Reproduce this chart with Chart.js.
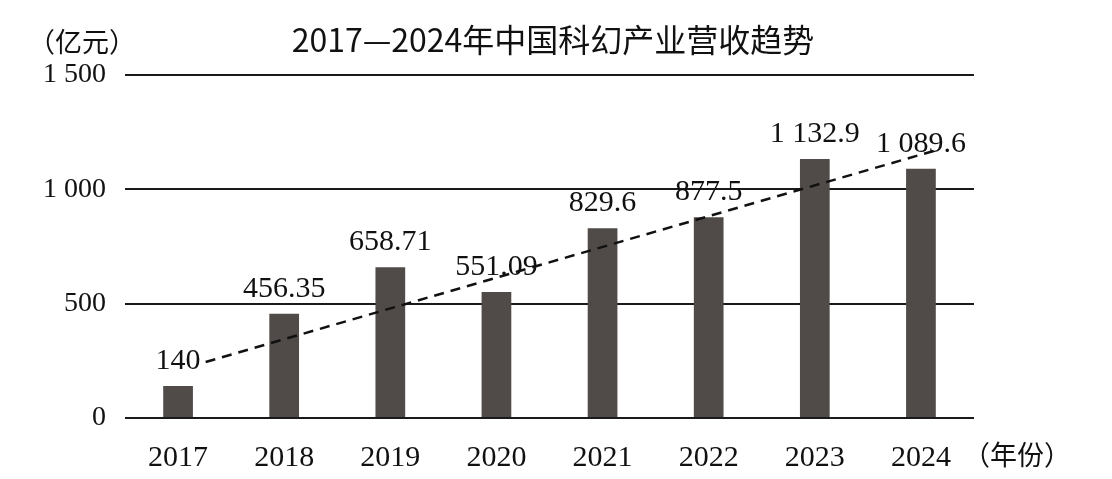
<!DOCTYPE html>
<html>
<head>
<meta charset="utf-8">
<script src="https://cdn.jsdelivr.net/npm/chart.js@4"></script>
<style>
  html, body { margin: 0; padding: 0; background: #fff; }
  #wrap { width: 1112px; height: 479px; position: relative; }
</style>
</head>
<body>
<div id="wrap"><canvas id="chartCanvas" width="1112" height="479"></canvas></div>
<script>
// data
const years = ['2017', '2018', '2019', '2020', '2021', '2022', '2023', '2024'];
const revenue = [140, 456.35, 658.71, 551.09, 829.6, 877.5, 1132.9, 1089.6];
const yTicks = [0, 500, 1000, 1500];
// dashed trend line, ends given in (category index, value)
const trendX = [0.26, 7.18];
const trendY = [245, 1176];

const titleText = '2017—2024年中国科幻产业营收趋势';
const yUnit = '（亿元）';
const xUnit = '（年份）';

const serif = '"Liberation Serif", "Times New Roman", serif';
const cjk = '"Noto Sans CJK SC", sans-serif';

// 1132.9 -> "1 132.9"
function fmt(v){
  const parts = String(v).split('.');
  parts[0] = parts[0].replace(/\B(?=(\d{3})+(?!\d))/g, ' ');
  return parts.join('.');
}

const extras = {
  id: 'extras',
  afterDatasetsDraw(chart){
    const c = chart.ctx;
    const area = chart.chartArea;
    c.save();
    c.fillStyle = '#111';
    // value labels over bars
    c.font = '30px ' + serif;
    c.textAlign = 'center';
    c.textBaseline = 'middle';
    chart.getDatasetMeta(0).data.forEach((bar, i) => {
      c.fillText(fmt(revenue[i]), bar.x, bar.y - 25);
    });
    // title
    c.font = '32px ' + cjk;
    c.fillText(titleText, 553, 40);
    // units
    c.font = '27px ' + cjk;
    c.textAlign = 'left';
    c.fillText(yUnit, 28, 42);
    c.fillText(xUnit, area.right - 11, 455);
    c.restore();
  }
};

const ctx = document.getElementById('chartCanvas').getContext('2d');
new Chart(ctx, {
  type: 'bar',
  data: {
    labels: years,
    datasets: [
      {
        data: revenue,
        backgroundColor: '#504b48',
        barPercentage: 0.28,
        categoryPercentage: 1,
        grouped: false,
        order: 1
      },
      {
        type: 'line',
        data: trendX.map((x, i) => ({ x: x, y: trendY[i] })),
        xAxisID: 'xTrend',
        borderColor: '#111',
        borderWidth: 2.5,
        borderDash: [10, 7],
        pointRadius: 0,
        fill: false,
        order: 0
      }
    ]
  },
  options: {
    responsive: false,
    animation: false,
    layout: { padding: { top: 75, right: 138, left: 0, bottom: 0 } },
    plugins: { legend: { display: false }, tooltip: { enabled: false }, title: { display: false } },
    scales: {
      x: {
        grid: { display: false },
        border: { display: false },
        ticks: { color: '#111', font: { family: serif, size: 30 }, padding: 14 },
        afterFit(scale){ scale.height = 61; }
      },
      xTrend: {
        type: 'linear',
        display: false,
        offset: false,
        min: -0.5,
        max: 7.5
      },
      y: {
        min: 0,
        max: 1500,
        afterBuildTicks(scale){ scale.ticks = yTicks.map(v => ({ value: v })); },
        grid: { color: '#1a1a1a', lineWidth: 2, drawTicks: false },
        border: { display: false },
        ticks: { color: '#111', font: { family: serif, size: 28 }, padding: 19, callback: v => fmt(v) },
        afterFit(scale){ scale.width = 125; }
      }
    }
  },
  plugins: [extras]
});
</script>
</body>
</html>
